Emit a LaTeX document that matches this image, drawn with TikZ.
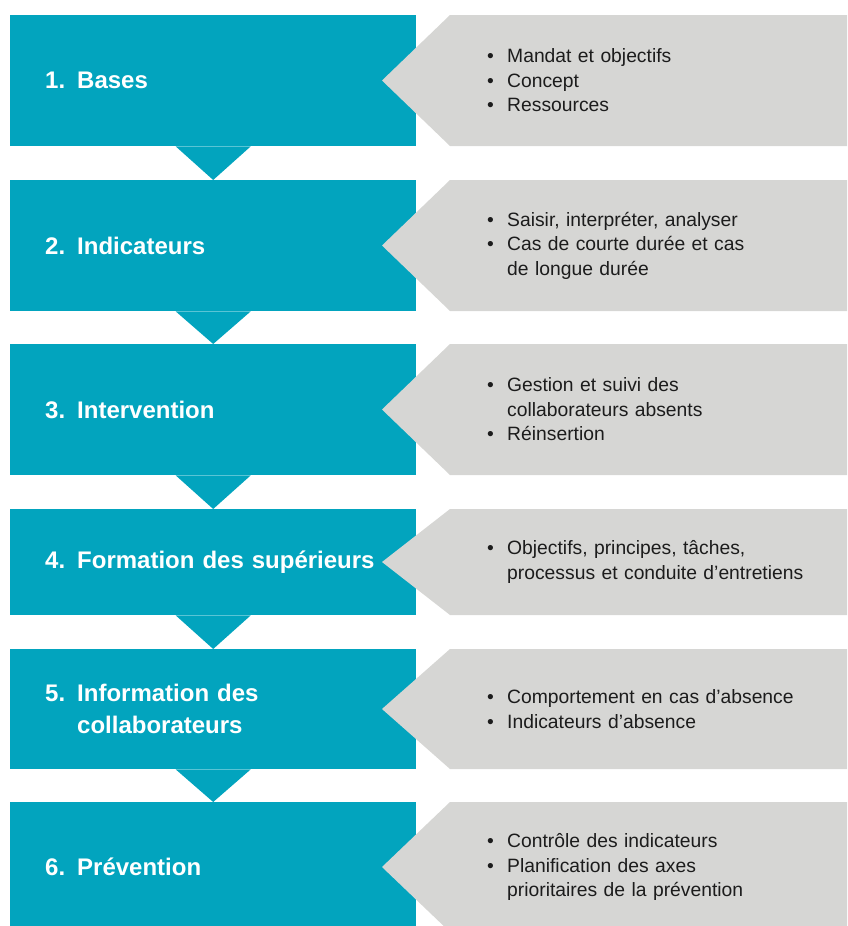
\documentclass[tikz,border=0pt]{standalone}
\usepackage{fontspec}
\setmainfont{Liberation Sans}
\usetikzlibrary{calc}

\definecolor{stepteal}{HTML}{02A4BE}
\definecolor{detailgrey}{HTML}{D6D6D4}
\definecolor{bodyink}{HTML}{1C1C1C}

% step number followed by its title, with a fixed-width number column
\newcommand\stepnum[1]{\makebox[32pt][l]{#1}}
% one bullet item with a hanging indent for wrapped lines
\newcommand\bitem[1]{\noindent\hangindent=20pt\hangafter=1\makebox[20pt][l]{\textbullet}#1\par}
% line break that stays inside the current paragraph
\newcommand\wrapline{\hfil\break}

\begin{document}
\begin{tikzpicture}[x=1pt,y=-1pt,
  stepbox/.style={fill=stepteal, text=white, anchor=north west,
    minimum width=406pt, text width=336pt, inner xsep=35pt, inner ysep=0pt,
    align=left, font=\fontsize{24}{32}\selectfont\bfseries},
  itemtext/.style={anchor=west, inner sep=0pt, text width=340pt, align=left,
    text=bodyink, font=\fontsize{19.3}{24.5}\selectfont},
  detail/.style={fill=detailgrey},
  pointer/.style={fill=stepteal}]

\useasboundingbox (0,0) rectangle (847,926);
\clip (0,0) rectangle (847,926);

% teal step boxes
\node[stepbox, minimum height=131pt] (s1) at (10,15)  {\stepnum{1.}Bases};
\node[stepbox, minimum height=131pt] (s2) at (10,180) {\stepnum{2.}Indicateurs};
\node[stepbox, minimum height=131pt] (s3) at (10,344) {\stepnum{3.}Intervention};
\node[stepbox, minimum height=106pt] (s4) at (10,509) {\stepnum{4.}Formation des supérieurs};
\node[stepbox, minimum height=120pt] (s5) at (10,649) {\stepnum{5.}Information des\\\hspace*{32pt}collaborateurs};
\node[stepbox, minimum height=130pt] (s6) at (10,802) {\stepnum{6.}Prévention};

% downward pointers between consecutive steps
\foreach \a/\b in {s1/s2, s2/s3, s3/s4, s4/s5, s5/s6}
  \fill[pointer] ($(\a.south)+(-37.5,0)$) -- ($(\a.south)+(37.5,0)$) -- (\b.north) -- cycle;

% grey detail panels, notched into the step boxes
\foreach \t/\b in {15/146, 180/311, 344/475, 509/615, 649/769, 802/932}
  \fill[detail] (450,\t) -- (847,\t) -- (847,\b) -- (450,\b) -- (382,{(\t+\b)/2}) -- cycle;

% bullet lists
\node[itemtext] (d1) at (487,80.5) {\bitem{Mandat et objectifs}\bitem{Concept}\bitem{Ressources}};
\node[itemtext] (d2) at (487,245.5) {\bitem{Saisir, interpréter, analyser}\bitem{Cas de courte durée et cas\wrapline de longue durée}};
\node[itemtext] (d3) at (487,409.5) {\bitem{Gestion et suivi des\wrapline collaborateurs absents}\bitem{Réinsertion}};
\node[itemtext] (d4) at (487,562) {\bitem{Objectifs, principes, tâches,\wrapline processus et conduite d’entretiens}};
\node[itemtext] (d5) at (487,709) {\bitem{Comportement en cas d’absence}\bitem{Indicateurs d’absence}};
\node[itemtext] (d6) at (487,867) {\bitem{Contrôle des indicateurs}\bitem{Planification des axes\wrapline prioritaires de la prévention}};

\end{tikzpicture}
\end{document}
